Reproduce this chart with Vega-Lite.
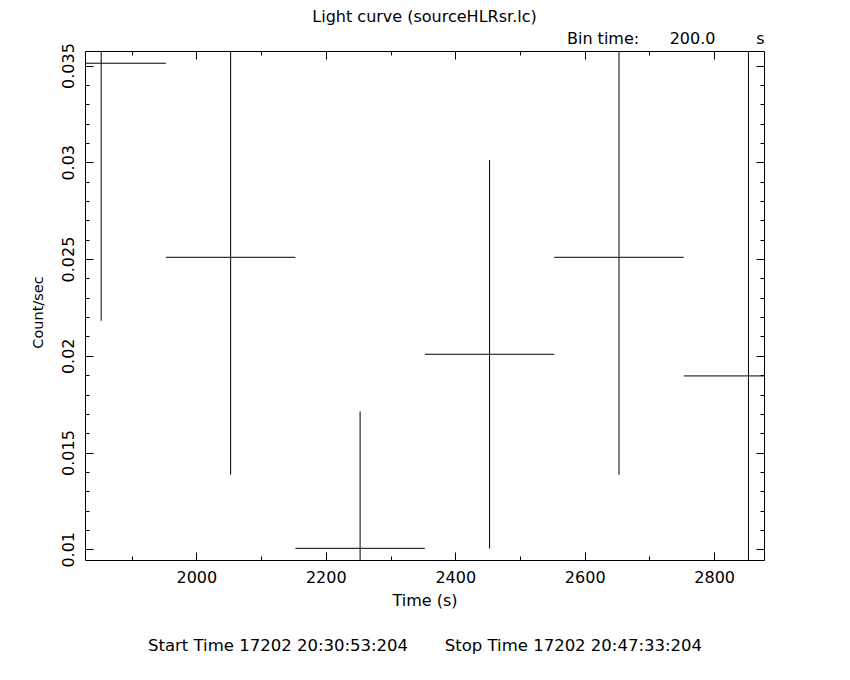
{
  "$schema": "https://vega.github.io/schema/vega-lite/v6.json",
  "width": 679,
  "height": 509,
  "autosize": {"type": "none"},
  "padding": {"left": 85, "top": 51, "right": 6, "bottom": 120},
  "background": "white",
  "title": {
    "text": "Light curve (sourceHLRsr.lc)",
    "anchor": "middle",
    "font": "DejaVu Sans",
    "fontSize": 16,
    "fontWeight": "normal",
    "color": "black",
    "baseline": "alphabetic",
    "offset": 10,
    "dy": 18
  },
  "config": {
    "view": {"stroke": "black", "strokeWidth": 1},
    "axis": {
      "grid": false,
      "domain": false,
      "labelFont": "DejaVu Sans",
      "titleFont": "DejaVu Sans",
      "labelFontSize": 16,
      "titleFontSize": 16,
      "titleFontWeight": "normal",
      "labelColor": "black",
      "titleColor": "black",
      "tickColor": "black",
      "tickWidth": 1
    }
  },
  "data": {
    "values": [
      {"time": 1853, "tstart": 1753, "tend": 1953, "rate": 0.03512, "lo": 0.02181, "hi": 0.04843},
      {"time": 2053, "tstart": 1953, "tend": 2153, "rate": 0.02509, "lo": 0.01385, "hi": 0.03633},
      {"time": 2253, "tstart": 2153, "tend": 2353, "rate": 0.01005, "lo": 0.00298, "hi": 0.01712},
      {"time": 2453, "tstart": 2353, "tend": 2553, "rate": 0.02008, "lo": 0.01004, "hi": 0.03012},
      {"time": 2653, "tstart": 2553, "tend": 2753, "rate": 0.02509, "lo": 0.01385, "hi": 0.03633},
      {"time": 2853, "tstart": 2753, "tend": 2953, "rate": 0.01896, "lo": 0.0012, "hi": 0.03672}
    ]
  },
  "layer": [
    {
      "mark": {"type": "rule", "clip": true, "color": "black", "strokeWidth": 1},
      "encoding": {
        "x": {
          "field": "tstart",
          "type": "quantitative",
          "scale": {"domain": [1828, 2877], "nice": false, "zero": false},
          "axis": {
            "orient": "bottom",
            "values": [1900, 2000, 2100, 2200, 2300, 2400, 2500, 2600, 2700, 2800],
            "tickSize": {"condition": {"test": "datum.value % 200 === 0", "value": -8}, "value": -4},
            "format": "d",
            "labelExpr": "datum.value % 200 === 0 ? datum.label : ''",
            "labelBaseline": "top",
            "labelPadding": 17,
            "title": "Time (s)",
            "titleY": 40,
            "titleBaseline": "middle"
          }
        },
        "x2": {"field": "tend"},
        "y": {
          "field": "rate",
          "type": "quantitative",
          "scale": {"domain": [0.009447, 0.035752], "nice": false, "zero": false},
          "axis": {
            "orient": "left",
            "values": [0.01, 0.011, 0.012, 0.013, 0.014, 0.015, 0.016, 0.017, 0.018, 0.019, 0.02, 0.021, 0.022, 0.023, 0.024, 0.025, 0.026, 0.027, 0.028, 0.029, 0.03, 0.031, 0.032, 0.033, 0.034, 0.035],
            "tickSize": {"condition": {"test": "round(datum.value * 1000) % 5 === 0", "value": -8}, "value": -4},
            "labelExpr": "round(datum.value * 1000) % 5 === 0 ? format(datum.value, '~g') : ''",
            "labelAngle": 270,
            "labelAlign": "center",
            "labelBaseline": "alphabetic",
            "labelPadding": 20,
            "title": "Count/sec",
            "titleFontSize": 14.5,
            "titleAngle": 270,
            "titleX": -47,
            "titleY": 261,
            "titleAlign": "center",
            "titleBaseline": "middle"
          }
        }
      }
    },
    {
      "mark": {"type": "rule", "clip": true, "color": "black", "strokeWidth": 1},
      "encoding": {
        "x": {
          "field": "time",
          "type": "quantitative",
          "scale": {"domain": [1828, 2877], "nice": false, "zero": false},
          "axis": {
            "orient": "top",
            "values": [1900, 2000, 2100, 2200, 2300, 2400, 2500, 2600, 2700, 2800],
            "tickSize": {"condition": {"test": "datum.value % 200 === 0", "value": -8}, "value": -4},
            "labels": false,
            "title": "Bin time:\u00a0\u00a0\u00a0\u00a0\u00a0\u00a0200.0\u00a0\u00a0\u00a0\u00a0\u00a0\u00a0\u00a0\u00a0s",
            "titleX": 679,
            "titleY": -13,
            "titleAlign": "right",
            "titleBaseline": "middle"
          }
        },
        "y": {
          "field": "lo",
          "type": "quantitative",
          "scale": {"domain": [0.009447, 0.035752], "nice": false, "zero": false},
          "axis": {
            "orient": "right",
            "values": [0.01, 0.011, 0.012, 0.013, 0.014, 0.015, 0.016, 0.017, 0.018, 0.019, 0.02, 0.021, 0.022, 0.023, 0.024, 0.025, 0.026, 0.027, 0.028, 0.029, 0.03, 0.031, 0.032, 0.033, 0.034, 0.035],
            "tickSize": {"condition": {"test": "round(datum.value * 1000) % 5 === 0", "value": -8}, "value": -4},
            "labels": false,
            "title": null
          }
        },
        "y2": {"field": "hi"}
      }
    },
    {
      "mark": {"type": "point", "opacity": 0},
      "encoding": {
        "x": {
          "field": "time",
          "type": "quantitative",
          "scale": {"domain": [1828, 2877], "nice": false, "zero": false},
          "axis": {
            "orient": "bottom",
            "ticks": false,
            "labels": false,
            "domain": false,
            "title": "Start Time 17202 20:30:53:204\u00a0\u00a0\u00a0\u00a0\u00a0\u00a0\u00a0Stop Time 17202 20:47:33:204",
            "titleFontSize": 16.5,
            "titleY": 85,
            "titleBaseline": "middle"
          }
        },
        "y": {
          "field": "rate",
          "type": "quantitative",
          "scale": {"domain": [0.009447, 0.035752], "nice": false, "zero": false},
          "axis": null
        }
      }
    }
  ],
  "resolve": {"axis": {"x": "independent", "y": "independent"}}
}
